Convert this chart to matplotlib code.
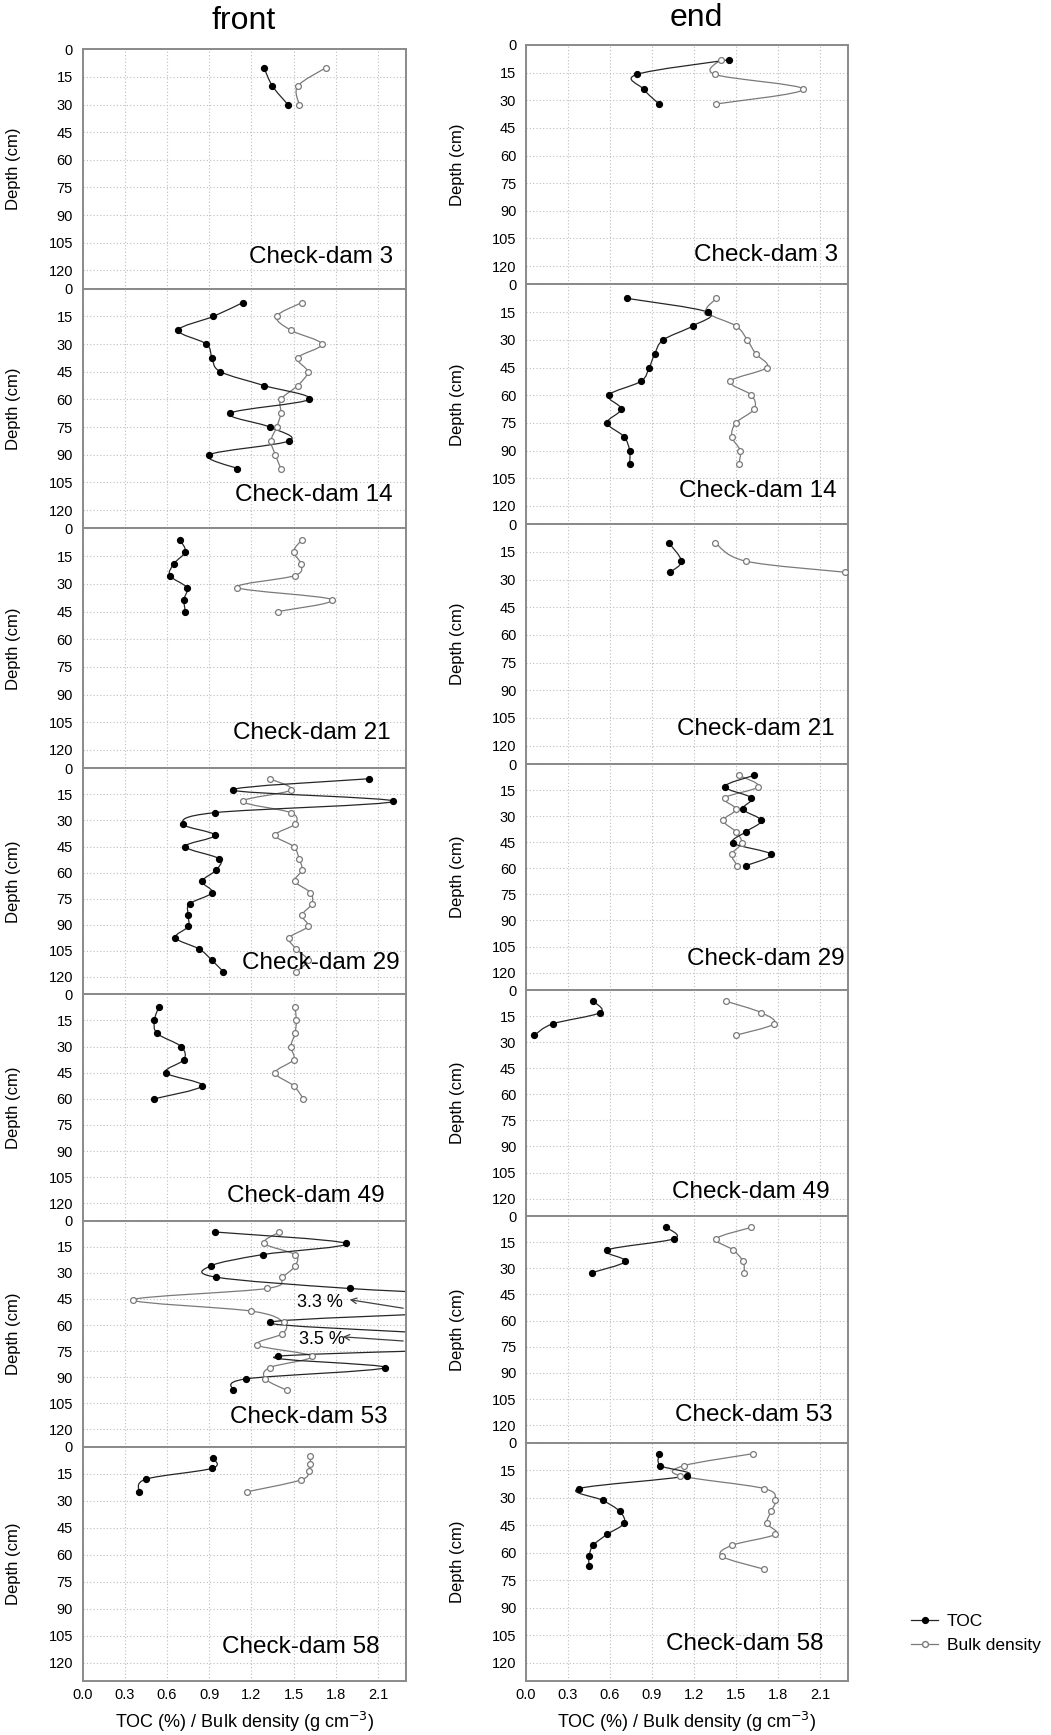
import numpy as np
import matplotlib.pyplot as plt
from matplotlib.path import Path
from matplotlib.patches import PathPatch
from matplotlib.lines import Line2D

plt.rcParams['font.family'] = ['Liberation Sans', 'DejaVu Sans']

# ---------------- data: depth (cm) and values ----------------
# front
f3_toc_d = [10, 20, 30]
f3_toc = [1.29, 1.35, 1.46]
f3_bd_d = [10, 20, 30]
f3_bd = [1.73, 1.53, 1.54]

f14_d = [7.5, 15, 22.5, 30, 37.5, 45, 52.5, 60, 67.5, 75, 82.5, 90, 97.5]
f14_toc = [1.14, 0.93, 0.68, 0.88, 0.92, 0.98, 1.29, 1.61, 1.05, 1.33, 1.47, 0.90, 1.10]
f14_bd = [1.56, 1.38, 1.48, 1.70, 1.53, 1.60, 1.53, 1.41, 1.41, 1.38, 1.34, 1.37, 1.41]

f21_d = [6, 12.5, 19, 25.5, 32, 38.5, 45]
f21_toc = [0.69, 0.73, 0.65, 0.62, 0.74, 0.72, 0.73]
f21_bd = [1.56, 1.50, 1.55, 1.51, 1.10, 1.77, 1.39]

f29_d = [6, 12.5, 19, 25.5, 32, 38.5, 45, 52, 58.5, 65, 71.5, 78, 84.5, 91, 97.5, 104, 110.5, 117]
f29_toc = [2.04, 1.07, 2.21, 0.94, 0.71, 0.94, 0.73, 0.97, 0.95, 0.85, 0.92, 0.76, 0.75, 0.75, 0.66, 0.83, 0.92, 1.00]
f29_bd = [1.33, 1.48, 1.14, 1.48, 1.51, 1.37, 1.50, 1.54, 1.56, 1.51, 1.62, 1.63, 1.56, 1.60, 1.47, 1.52, 1.60, 1.52]

f49_d = [7.5, 15, 22.5, 30, 37.5, 45, 52.5, 60]
f49_toc = [0.54, 0.51, 0.53, 0.70, 0.72, 0.59, 0.85, 0.51]
f49_bd = [1.51, 1.52, 1.51, 1.48, 1.50, 1.37, 1.50, 1.57]

f53_d = [6.5, 13, 19.5, 26, 32.5, 39, 45.5, 52, 58.5, 65, 71.5, 78, 84.5, 91, 97.5]
f53_toc = [0.94, 1.87, 1.28, 0.91, 0.95, 1.90, 3.3, 2.8, 1.33, 2.5, 3.5, 1.39, 2.15, 1.16, 1.07]
f53_bd = [1.40, 1.29, 1.51, 1.51, 1.42, 1.31, 0.36, 1.20, 1.43, 1.42, 1.24, 1.63, 1.33, 1.30, 1.45]

f58_toc_d = [6.5, 12, 18, 25]
f58_toc = [0.93, 0.92, 0.45, 0.40]
f58_bd_d = [5, 9.5, 13.5, 18.5, 25]
f58_bd = [1.62, 1.62, 1.61, 1.55, 1.17]

# end
e3_d = [8, 16, 24, 32]
e3_toc = [1.45, 0.79, 0.84, 0.95]
e3_bd = [1.39, 1.35, 1.98, 1.36]

e14_d = [7.5, 15, 22.5, 30, 37.5, 45, 52.5, 60, 67.5, 75, 82.5, 90, 97.5]
e14_toc = [0.72, 1.30, 1.19, 0.98, 0.92, 0.88, 0.82, 0.59, 0.68, 0.58, 0.70, 0.74, 0.74]
e14_bd = [1.36, 1.29, 1.50, 1.58, 1.64, 1.72, 1.46, 1.61, 1.63, 1.50, 1.47, 1.53, 1.52]

e21_d = [10, 20, 26]
e21_toc = [1.02, 1.11, 1.03]
e21_bd = [1.35, 1.57, 2.28]

e29_d = [6.5, 13, 19.5, 26, 32.5, 39, 45.5, 52, 58.5]
e29_toc = [1.63, 1.42, 1.61, 1.55, 1.68, 1.57, 1.48, 1.75, 1.57]
e29_bd = [1.52, 1.66, 1.42, 1.50, 1.41, 1.50, 1.54, 1.47, 1.51]

e49_d = [6.5, 13, 19.5, 26]
e49_toc = [0.48, 0.53, 0.19, 0.06]
e49_bd = [1.43, 1.68, 1.77, 1.50]

e53_d = [6.5, 13, 19.5, 26, 32.5]
e53_toc = [1.00, 1.06, 0.58, 0.71, 0.47]
e53_bd = [1.61, 1.36, 1.48, 1.55, 1.56]

e58_toc_d = [6, 12.5, 18, 25, 31.5, 37.5, 44, 50, 56, 62, 67]
e58_toc = [0.95, 0.96, 1.15, 0.38, 0.55, 0.67, 0.70, 0.58, 0.48, 0.45, 0.45]
e58_bd_d = [6, 12.5, 18, 25, 31.5, 37.5, 44, 50, 56, 62, 69]
e58_bd = [1.62, 1.13, 1.10, 1.70, 1.78, 1.75, 1.72, 1.78, 1.47, 1.40, 1.70]

front = [("Check-dam 3", f3_toc_d, f3_toc, f3_bd_d, f3_bd),
         ("Check-dam 14", f14_d, f14_toc, f14_d, f14_bd),
         ("Check-dam 21", f21_d, f21_toc, f21_d, f21_bd),
         ("Check-dam 29", f29_d, f29_toc, f29_d, f29_bd),
         ("Check-dam 49", f49_d, f49_toc, f49_d, f49_bd),
         ("Check-dam 53", f53_d, f53_toc, f53_d, f53_bd),
         ("Check-dam 58", f58_toc_d, f58_toc, f58_bd_d, f58_bd)]
end = [("Check-dam 3", e3_d, e3_toc, e3_d, e3_bd),
       ("Check-dam 14", e14_d, e14_toc, e14_d, e14_bd),
       ("Check-dam 21", e21_d, e21_toc, e21_d, e21_bd),
       ("Check-dam 29", e29_d, e29_toc, e29_d, e29_bd),
       ("Check-dam 49", e49_d, e49_toc, e49_d, e49_bd),
       ("Check-dam 53", e53_d, e53_toc, e53_d, e53_bd),
       ("Check-dam 58", e58_toc_d, e58_toc, e58_bd_d, e58_bd)]

x_ticks = [0.0, 0.3, 0.6, 0.9, 1.2, 1.5, 1.8, 2.1]
y_ticks = [0, 15, 30, 45, 60, 75, 90, 105, 120]

# ---------------- layout (pixels of a 1051 x 1735 canvas) ----------------
W, H = 1051, 1735
left_x = (82.7, 406)
right_x = (526, 848)
left_rows = [49.3, 288.7, 528.5, 768.3, 994.3, 1220.7, 1446.7, 1681]
right_rows = [45, 284.5, 524.3, 764, 990, 1216, 1442.7, 1681]
# label anchor: (right edge as axes fraction, depth of text centre)
left_lab = [(0.960, 113), (0.960, 112), (0.953, 111), (0.981, 112), (0.935, 116), (0.943, 113), (0.918, 111)]
right_lab = [(0.968, 114), (0.965, 112), (0.959, 111), (0.991, 112), (0.944, 116), (0.952, 114), (0.925, 110)]

TOC_C = '#262626'
BD_C = '#7a7a7a'


def smooth_line(ax, x, y, color):
    # smoothed connector through the points, drawn as bezier path
    pts = np.column_stack([x, y]).astype(float)
    n = len(pts)
    verts = [pts[0]]
    codes = [Path.MOVETO]
    for i in range(n - 1):
        p0 = pts[max(i - 1, 0)]
        p1 = pts[i]
        p2 = pts[i + 1]
        p3 = pts[min(i + 2, n - 1)]
        verts += [p1 + (p2 - p0) / 6, p2 - (p3 - p1) / 6, p2]
        codes += [Path.CURVE4] * 3
    ax.add_patch(PathPatch(Path(verts, codes), fill=False, edgecolor=color, lw=0.9, zorder=2))


fig = plt.figure(figsize=(W / 100, H / 100), dpi=100)

cols = [(front, left_x, left_rows, left_lab), (end, right_x, right_rows, right_lab)]
for col, (panels, xs, rows, labs) in enumerate(cols):
    for i, (name, td, tv, bd_d, bv) in enumerate(panels):
        top, bot = rows[i], rows[i + 1]
        ax = fig.add_axes([xs[0] / W, 1 - bot / H, (xs[1] - xs[0]) / W, (bot - top) / H])
        ax.set_xlim(0, 2.3)
        ax.set_ylim(130, 0)
        ax.set_xticks(x_ticks)
        ax.set_yticks(y_ticks)
        ax.grid(True, color='#bdbdbd', ls=(0, (1, 2)), lw=0.8)
        ax.set_axisbelow(True)
        for s in ax.spines.values():
            s.set_color('#8a8a8a')
            s.set_linewidth(1.4)
        ax.tick_params(length=0, pad=7, labelsize=10.5, colors='black')
        if i < 6:
            ax.tick_params(labelbottom=False)
        else:
            ax.set_xticklabels(['%.1f' % t for t in x_ticks])
            ax.tick_params(axis='x', pad=5)
            ax.set_xlabel('TOC (%) / Bulk density (g cm$^{-3}$)', fontsize=13, labelpad=6)
        ax.set_ylabel('Depth (cm)', fontsize=12)
        ax.yaxis.set_label_coords(-0.19, 0.5)

        smooth_line(ax, bv, bd_d, BD_C)
        smooth_line(ax, tv, td, TOC_C)
        ax.plot(bv, bd_d, ls='none', marker='o', ms=4.2, mfc='white', mec=BD_C, mew=0.9, zorder=3)
        ax.plot(tv, td, ls='none', marker='o', ms=4.2, mfc='black', mec='black', zorder=4)

        lx, ly = labs[i]
        ax.text(lx * 2.3, ly, name, fontsize=17.5, ha='right', va='center', zorder=5)

        if col == 0 and name == "Check-dam 53":
            ax.annotate('', xy=(1.88, 45.2), xytext=(2.3, 50.6),
                        arrowprops=dict(arrowstyle='->', color='#404040', lw=0.9))
            ax.text(1.69, 47.2, '3.3 %', fontsize=13, ha='center', va='center')
            ax.annotate('', xy=(1.83, 66.7), xytext=(2.3, 69.3),
                        arrowprops=dict(arrowstyle='->', color='#404040', lw=0.9))
            ax.text(1.70, 68.6, '3.5 %', fontsize=13, ha='center', va='center')

fig.text(244 / W, 1 - 21 / H, 'front', fontsize=23, ha='center', va='center')
fig.text(696 / W, 1 - 18 / H, 'end', fontsize=23, ha='center', va='center')

handles = [Line2D([], [], color=TOC_C, lw=0.9, marker='o', ms=4.2, mfc='black', mec='black', markevery=[1]),
           Line2D([], [], color=BD_C, lw=0.9, marker='o', ms=4.2, mfc='white', mec=BD_C, markevery=[1])]
fig.legend(handles, ['TOC', 'Bulk density'], loc='upper left', bbox_to_anchor=(895 / W, 1 - 1598 / H),
           frameon=False, fontsize=12.5, handlelength=1.6, handletextpad=0.5, labelspacing=0.5)

fig.savefig('out.png', dpi=100)
